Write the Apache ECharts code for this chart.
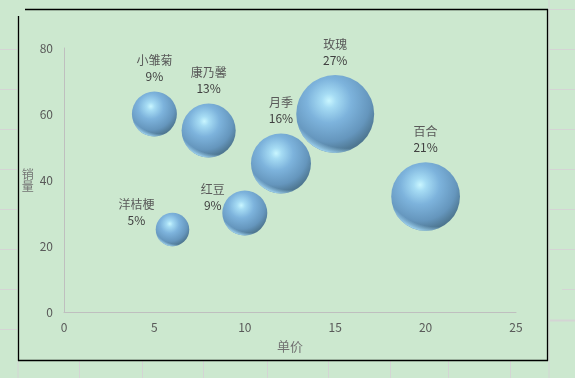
<!DOCTYPE html>
<html>
<head>
<meta charset="utf-8">
<script src="https://cdn.jsdelivr.net/npm/echarts@6/dist/echarts.min.js"></script>
<style>
html, body { margin: 0; padding: 0; background: #cce8cf; }
#c1 { width: 575px; height: 378px; }
</style>
</head>
<body>
<div id="c1"></div>
<script type="text/javascript">
// 花卉：单价 / 销量 / 占比
const names  = ['小雏菊', '康乃馨', '月季', '玫瑰', '百合', '红豆', '洋桔梗'];
const prices = [5, 8, 12, 15, 20, 10, 6];
const sales  = [60, 55, 45, 60, 35, 30, 25];
const shares = [9, 13, 16, 27, 21, 9, 5];
const xTicks = [0, 5, 10, 15, 20, 25];
const yTicks = [0, 20, 40, 60, 80];

// 两个标签被手动挪到了左下
const labelOffsets = { '红豆': [-32, 30], '洋桔梗': [-36, 23] };

const font = '"Noto Sans CJK SC", "Noto Sans", sans-serif';

let chart = echarts.init(document.getElementById('c1'));

let bubbleData = [];
for (let i = 0; i < names.length; ++i) {
    let item = { value: [prices[i], sales[i], shares[i], names[i]] };
    if (labelOffsets[names[i]]) {
        item.label = { offset: labelOffsets[names[i]] };
    }
    bubbleData.push(item);
}
let rimData = bubbleData.map(d => ({ value: d.value }));

function size(d) { return 15 * Math.sqrt(d[2]); }

// 表格网格线 + 图表边框（装饰）
let deco = [];
const gridColor = '#d4d4d4';
[49, 89, 129, 169, 209, 249, 289, 329].forEach(y => {
    deco.push({ type: 'line', shape: { x1: 0, y1: y + 0.5, x2: 17, y2: y + 0.5 }, style: { stroke: gridColor, lineWidth: 1 }, silent: true });
});
[9, 49, 89, 129, 169, 209, 249].forEach(y => {
    deco.push({ type: 'line', shape: { x1: 549, y1: y + 0.5, x2: 575, y2: y + 0.5 }, style: { stroke: gridColor, lineWidth: 1 }, silent: true });
});
deco.push({ type: 'line', shape: { x1: 562, y1: 289.5, x2: 575, y2: 289.5 }, style: { stroke: gridColor, lineWidth: 1 }, silent: true });
deco.push({ type: 'line', shape: { x1: 550, y1: 320.5, x2: 575, y2: 320.5 }, style: { stroke: gridColor, lineWidth: 2 }, silent: true });
[17.5, 79, 142, 203, 267, 328, 390, 448, 510].forEach(x => {
    deco.push({ type: 'line', shape: { x1: x + 0.5, y1: 361, x2: x + 0.5, y2: 378 }, style: { stroke: gridColor, lineWidth: 1 }, silent: true });
});
deco.push({ type: 'line', shape: { x1: 549, y1: 0, x2: 549, y2: 378 }, style: { stroke: gridColor, lineWidth: 1 }, silent: true });
// 边框
const bd = { stroke: '#000', lineWidth: 1.3 };
deco.push({ type: 'line', shape: { x1: 25, y1: 9.5, x2: 548, y2: 9.5 }, style: bd, silent: true });
deco.push({ type: 'line', shape: { x1: 547.5, y1: 9, x2: 547.5, y2: 361 }, style: bd, silent: true });
deco.push({ type: 'line', shape: { x1: 18, y1: 360.5, x2: 548, y2: 360.5 }, style: bd, silent: true });
deco.push({ type: 'line', shape: { x1: 18.5, y1: 16, x2: 18.5, y2: 361 }, style: bd, silent: true });

let option = {
    backgroundColor: '#cce8cf',
    animation: false,
    textStyle: { fontFamily: font },
    graphic: deco,
    grid: { left: 64, right: 59, top: 48, bottom: 66 },
    xAxis: {
        type: 'value',
        min: xTicks[0],
        max: xTicks[xTicks.length - 1],
        interval: xTicks[1] - xTicks[0],
        name: '单价',
        nameLocation: 'middle',
        nameGap: 28,
        nameTextStyle: { color: '#737373', fontSize: 13, fontFamily: font },
        axisLine: { show: true, lineStyle: { color: '#bfbfbf', width: 1 } },
        axisTick: { show: false },
        splitLine: { show: false },
        axisLabel: { color: '#595959', fontSize: 12, margin: 9, fontFamily: font }
    },
    yAxis: {
        type: 'value',
        min: yTicks[0],
        max: yTicks[yTicks.length - 1],
        interval: yTicks[1] - yTicks[0],
        name: '销\n量',
        nameLocation: 'middle',
        nameRotate: 0,
        nameGap: 35,
        nameTextStyle: { color: '#737373', fontSize: 12, lineHeight: 12, align: 'center', verticalAlign: 'middle', fontFamily: font },
        axisLine: { show: true, lineStyle: { color: '#bfbfbf', width: 1 } },
        axisTick: { show: false },
        splitLine: { show: false },
        axisLabel: { color: '#595959', fontSize: 12, margin: 11, fontFamily: font }
    },
    series: [
        {
            name: '销量',
            type: 'scatter',
            data: bubbleData,
            symbolSize: size,
            itemStyle: {
                color: new echarts.graphic.RadialGradient(0.42, 0.33, 0.75, [
                    { offset: 0, color: '#c9f6ff' },
                    { offset: 0.12, color: '#a6dcf4' },
                    { offset: 0.38, color: '#7db3dc' },
                    { offset: 0.7, color: '#6596bd' },
                    { offset: 0.88, color: '#4f7893' },
                    { offset: 1, color: '#4a6f88' }
                ]),
                opacity: 1
            },
            label: {
                show: true,
                position: 'top',
                distance: 7,
                formatter: function (p) {
                    return '{n|' + p.data.value[3] + '}\n{v|' + p.data.value[2] + '%}';
                },
                rich: {
                    n: { color: '#595959', fontSize: 12, lineHeight: 16, fontFamily: font },
                    v: { color: '#404040', fontSize: 12, lineHeight: 16, fontFamily: font }
                }
            },
            emphasis: { disabled: true },
            z: 2
        },
        {
            // 底部反光
            type: 'scatter',
            data: rimData,
            symbolSize: size,
            silent: true,
            itemStyle: {
                color: new echarts.graphic.RadialGradient(0.65, 0.15, 1, [
                    { offset: 0, color: 'rgba(165,218,248,0)' },
                    { offset: 0.79, color: 'rgba(165,218,248,0)' },
                    { offset: 0.87, color: 'rgba(165,218,248,0.85)' },
                    { offset: 1, color: 'rgba(165,218,248,0.85)' }
                ]),
                opacity: 1
            },
            label: { show: false },
            emphasis: { disabled: true },
            z: 3
        }
    ]
};
chart.setOption(option);
</script>
</body>
</html>
